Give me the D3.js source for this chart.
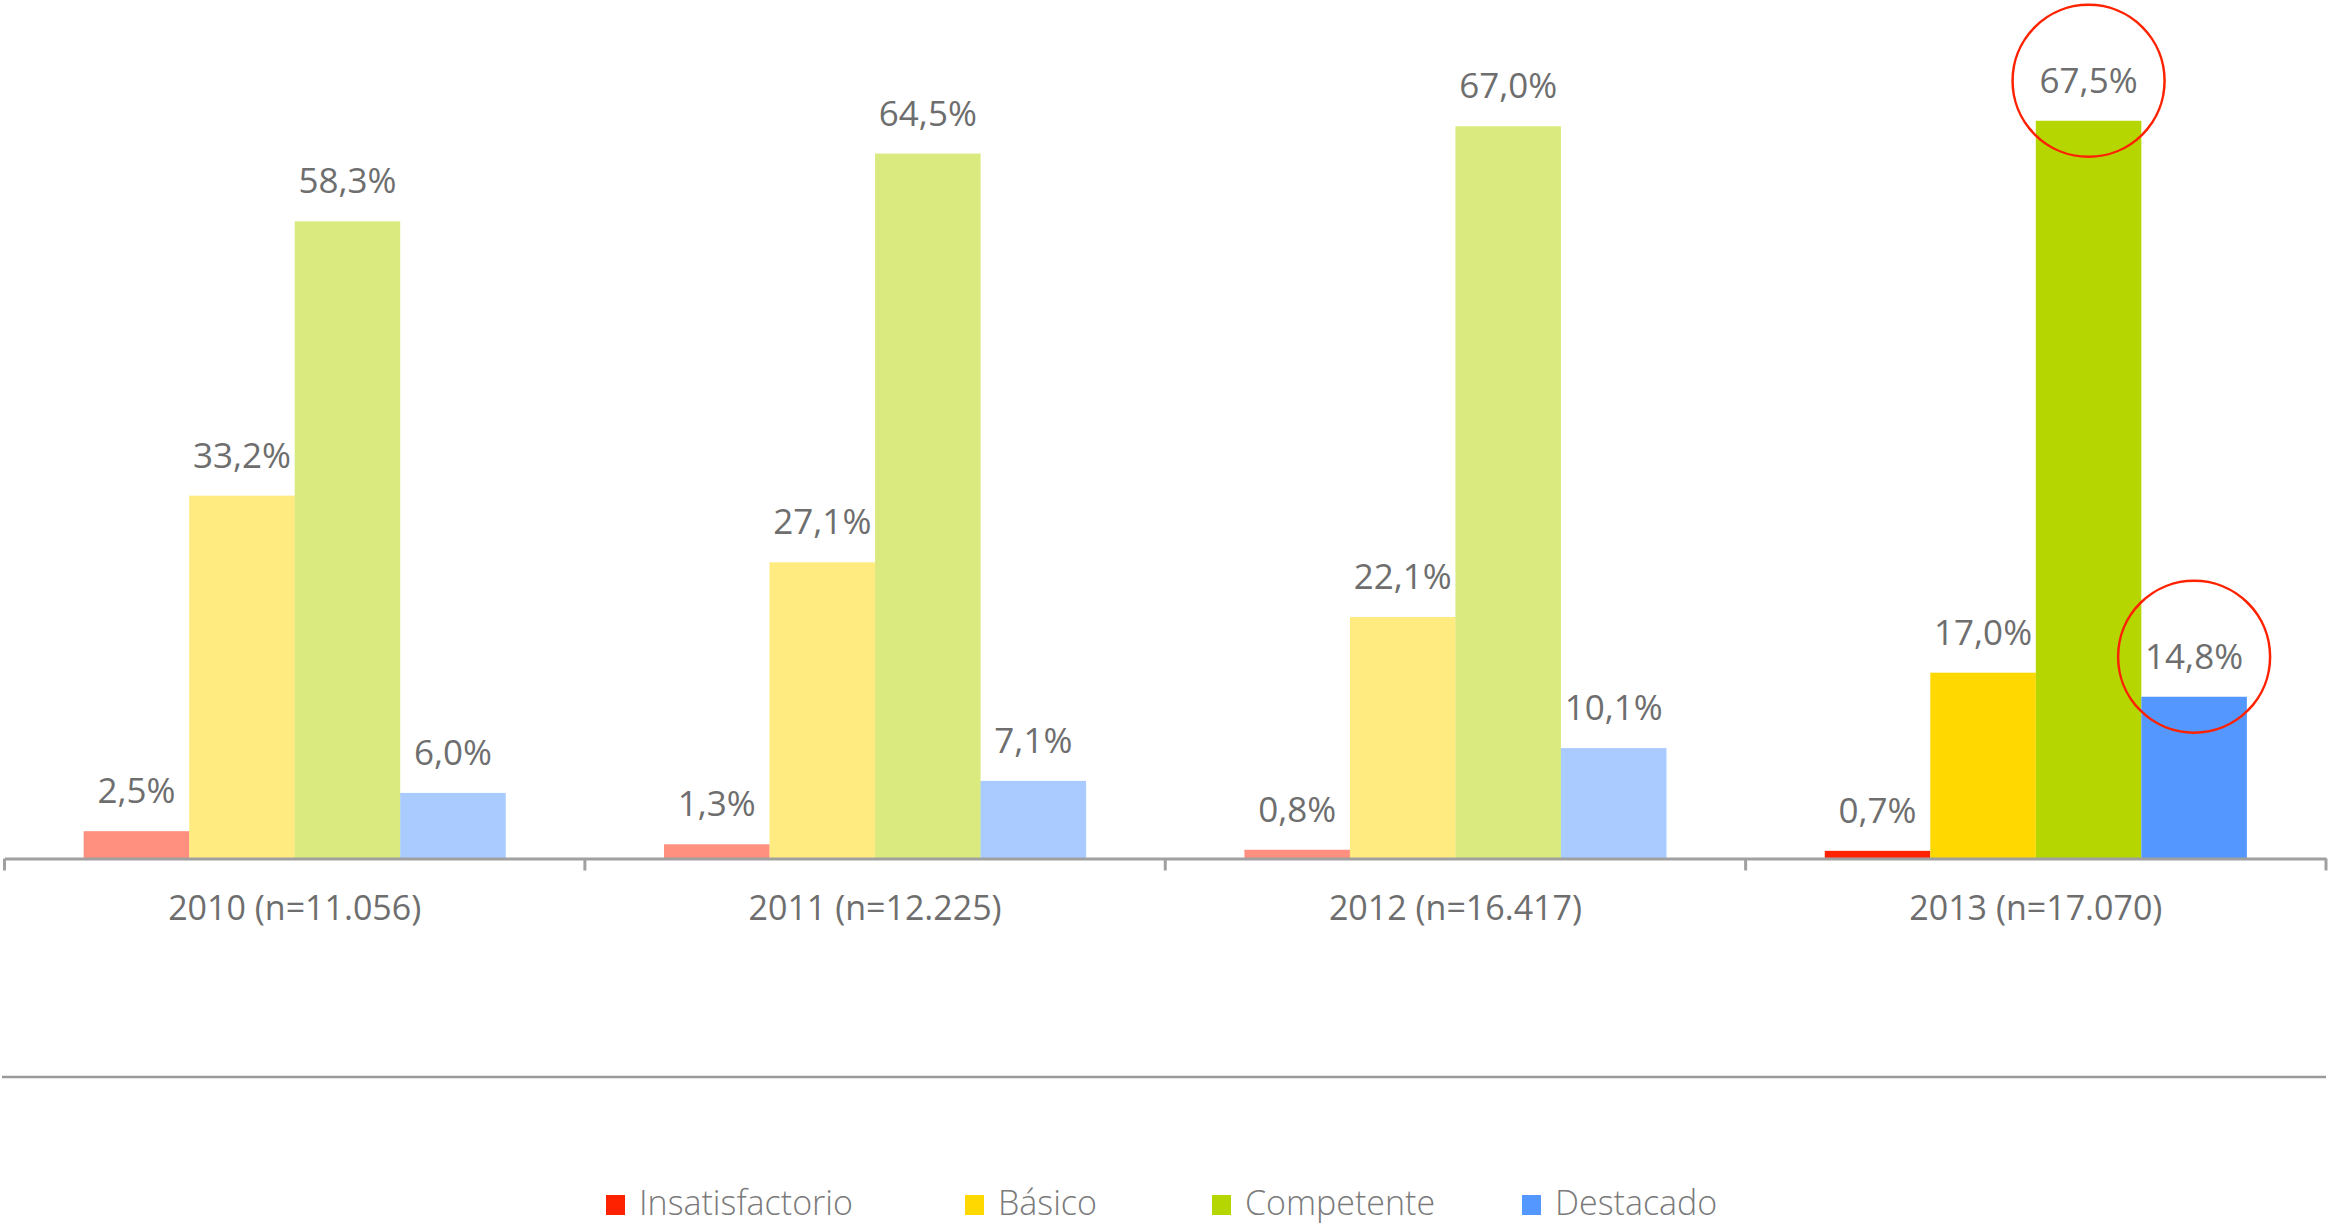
<!DOCTYPE html>
<html>
<head>
<meta charset="utf-8">
<script src="https://cdn.jsdelivr.net/npm/d3@7"></script>
<style>
  html, body { margin: 0; padding: 0; background: #fff; }
  svg { display: block; }
</style>
</head>
<body>
<div id="chart"></div>
<script>
const width = 2329;
const height = 1225;
const margin = {top: 0, left: 4.5, right: 3, baseline: 858.5};

// Data
const years = ["2010 (n=11.056)", "2011 (n=12.225)", "2012 (n=16.417)", "2013 (n=17.070)"];
const levels = ["Insatisfactorio", "Básico", "Competente", "Destacado"];
const insatisfactorio = [2.5, 1.3, 0.8, 0.7];
const basico = [33.2, 27.1, 22.1, 17.0];
const competente = [58.3, 64.5, 67.0, 67.5];
const destacado = [6.0, 7.1, 10.1, 14.8];
const highlighted = [[3, "Competente"], [3, "Destacado"]];

const colors = ["#ff2200", "#ffd800", "#b5d600", "#5397ff"];
const textColor = "#6e6e6e";
const font = "'Open Sans', sans-serif";
// legend item left edges (layout)
const legendX = [606, 965, 1212, 1522];

const seriesValues = [insatisfactorio, basico, competente, destacado];
const rows = years.map((y, i) => ({
  year: y,
  index: i,
  values: levels.map((l, j) => ({level: l, value: seriesValues[j][i], yearIndex: i}))
}));

const svg = d3.select("#chart")
  .append("svg")
    .attr("width", width)
    .attr("height", height);

const x0 = d3.scaleBand()
  .domain(years)
  .range([margin.left, width - margin.right])
  .paddingInner(0)
  .paddingOuter(0);

const x1 = d3.scaleBand()
  .domain(levels)
  .range([0, x0.bandwidth()])
  .paddingInner(0)
  .paddingOuter(0.75);

const y = d3.scaleLinear()
  .domain([0, 78.55])
  .range([margin.baseline, 0]);

const color = d3.scaleOrdinal().domain(levels).range(colors);

//Bars
const groups = svg.selectAll("g.year")
  .data(rows)
  .enter()
  .append("g")
    .attr("class", "year")
    .attr("transform", d => `translate(${x0(d.year)},0)`);

groups.selectAll("rect")
  .data(d => d.values)
  .enter()
  .append("rect")
    .attr("x", d => x1(d.level))
    .attr("y", d => y(d.value))
    .attr("width", x1.bandwidth())
    .attr("height", d => y(0) - y(d.value))
    .attr("fill", d => color(d.level))
    .attr("fill-opacity", d => d.yearIndex === years.length - 1 ? 1 : 0.5);

groups.selectAll("text.value")
  .data(d => d.values)
  .enter()
  .append("text")
    .attr("class", "value")
    .attr("x", d => x1(d.level) + x1.bandwidth() / 2)
    .attr("y", d => y(d.value) - 28)
    .attr("text-anchor", "middle")
    .style("font-family", font)
    .style("font-size", "35px")
    .style("fill", textColor)
    .text(d => d.value.toFixed(1).replace(".", ",") + "%");

//Axis
const axis = svg.append("g")
  .attr("transform", `translate(0,${y(0)})`)
  .call(d3.axisBottom(x0).tickSize(0).tickSizeOuter(0).tickPadding(37));

axis.select(".domain")
  .attr("stroke", "#a0a0a0")
  .attr("stroke-width", 3);

axis.selectAll("text")
  .style("font-family", font)
  .style("font-size", "34px")
  .style("fill", textColor);

const bounds = years.map(d => x0(d)).concat([x0(years[years.length - 1]) + x0.bandwidth()]);
axis.selectAll("line.boundary")
  .data(bounds)
  .enter()
  .append("line")
    .attr("class", "boundary")
    .attr("x1", d => d)
    .attr("x2", d => d)
    .attr("y1", 0)
    .attr("y2", 12)
    .attr("stroke", "#a0a0a0")
    .attr("stroke-width", 3);

//Separator
svg.append("line")
  .attr("x1", 2)
  .attr("x2", width - 3)
  .attr("y1", 1077)
  .attr("y2", 1077)
  .attr("stroke", "#9a9a9a")
  .attr("stroke-width", 2.5);

//Highlight circles
highlighted.forEach(([yi, level]) => {
  const v = seriesValues[levels.indexOf(level)][yi];
  svg.append("ellipse")
    .attr("cx", x0(years[yi]) + x1(level) + x1.bandwidth() / 2)
    .attr("cy", y(v) - 40)
    .attr("rx", 76)
    .attr("ry", 76)
    .attr("fill", "none")
    .attr("stroke", "#ff2200")
    .attr("stroke-width", 2.5);
});

//Legend
const items = svg.append("g")
  .selectAll("g")
  .data(levels)
  .enter()
  .append("g")
    .attr("transform", (d, i) => `translate(${legendX[i]},0)`);

items.append("rect")
  .attr("y", 1195)
  .attr("width", 19)
  .attr("height", 20)
  .attr("fill", d => color(d));

items.append("text")
  .attr("x", 33)
  .attr("y", 1215)
  .style("font-family", font)
  .style("font-weight", 300)
  .style("font-size", "34px")
  .style("fill", "#7a7a7a")
  .text(d => d);
</script>
</body>
</html>
